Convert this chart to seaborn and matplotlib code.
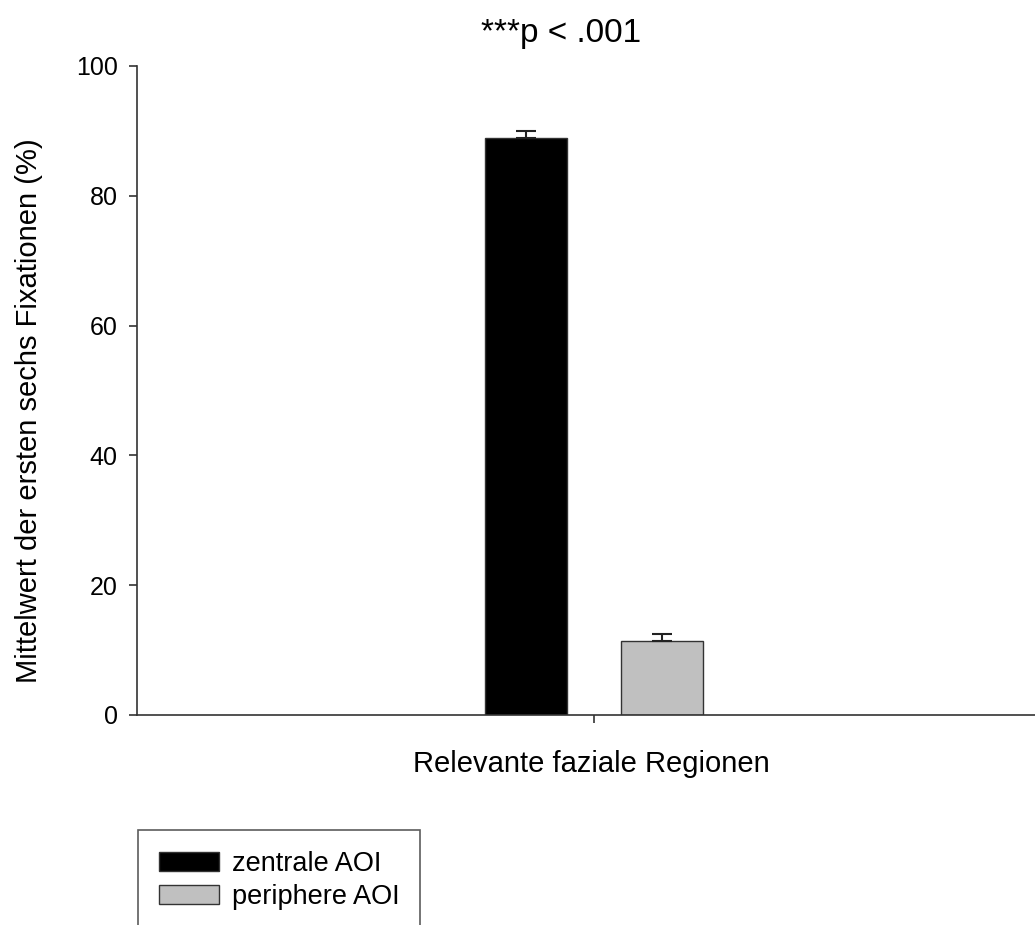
import matplotlib
matplotlib.use("Agg")
import matplotlib.pyplot as plt
import seaborn as sns
import pandas as pd

categories = ["Relevante faziale Regionen"]
groups = ["zentrale AOI", "periphere AOI"]
means = [88.9, 11.4]
errs = [1.1, 1.1]
colors = ["#000000", "#c0c0c0"]
yticks = [0, 20, 40, 60, 80, 100]

df = pd.DataFrame({"region": categories * len(groups), "AOI": groups, "value": means})

sns.set_style("white")
plt.rcParams["font.family"] = ["Liberation Sans", "DejaVu Sans"]
plt.rcParams["text.color"] = "black"
plt.rcParams["axes.labelcolor"] = "black"
plt.rcParams["xtick.color"] = "black"
plt.rcParams["ytick.color"] = "black"

W, H = 1035, 925
fig = plt.figure(figsize=(W / 100, H / 100), dpi=100)
ax = fig.add_axes([137 / W, 1 - 715 / H, 1 - 137 / W, (715 - 66) / H])

sns.barplot(data=df, x="region", y="value", hue="AOI", palette=colors,
            errorbar=None, gap=0.39, edgecolor="#333333", linewidth=1.0,
            ax=ax, legend=True)

# upper-only error bars at the bar centers
bars = [p for p in ax.patches if p.get_height() > 0]
for bar, m, e in zip(bars, means, errs):
    cx = bar.get_x() + bar.get_width() / 2
    ax.errorbar(cx, m, yerr=[[0], [e]], fmt="none", ecolor="#222222",
                elinewidth=1.5, capsize=7.2, capthick=1.5, zorder=5)

ax.set_ylim(0, 100)
ax.set_xlim(-1.344, 1.297)
ax.set_yticks(yticks)
ax.set_yticklabels([str(t) for t in yticks])
ax.set_xticks([0])
ax.set_xticklabels([""])
ax.tick_params(axis="both", which="major", left=True, bottom=True,
               direction="out", length=6, width=1.2, color="#333333",
               labelsize=18, labelcolor="black")
ax.tick_params(axis="y", pad=8)

for s in ["top", "right"]:
    ax.spines[s].set_visible(False)
for s in ["left", "bottom"]:
    ax.spines[s].set_color("#333333")
    ax.spines[s].set_linewidth(1.2)

ax.set_xlabel("Relevante faziale Regionen", fontsize=21, color="black")
ax.xaxis.set_label_coords((591 - 137) / 898, (715 - 750) / 649)
ax.set_ylabel("Mittelwert der ersten sechs Fixationen (%)", fontsize=21, color="black")
ax.yaxis.set_label_coords((43 - 137) / 898, (715 - 411) / 649)
ax.set_title("***p < .001", fontsize=24, pad=17.5, color="black",
             x=(561 - 137) / 898)

handles, labels = ax.get_legend_handles_labels()
ax.get_legend().remove()
leg = fig.legend(handles, labels, loc="upper left",
                 bbox_to_anchor=(138 / W, 1 - 830 / H), bbox_transform=fig.transFigure,
                 frameon=True, fancybox=False, edgecolor="#333333", fontsize=19.5,
                 handlelength=2.2, handleheight=0.72, handletextpad=0.48,
                 borderpad=0.78, labelspacing=0.25, borderaxespad=0)
leg.get_frame().set_linewidth(1.2)
for t in leg.get_texts():
    t.set_color("black")

fig.savefig("out.png", dpi=100)
